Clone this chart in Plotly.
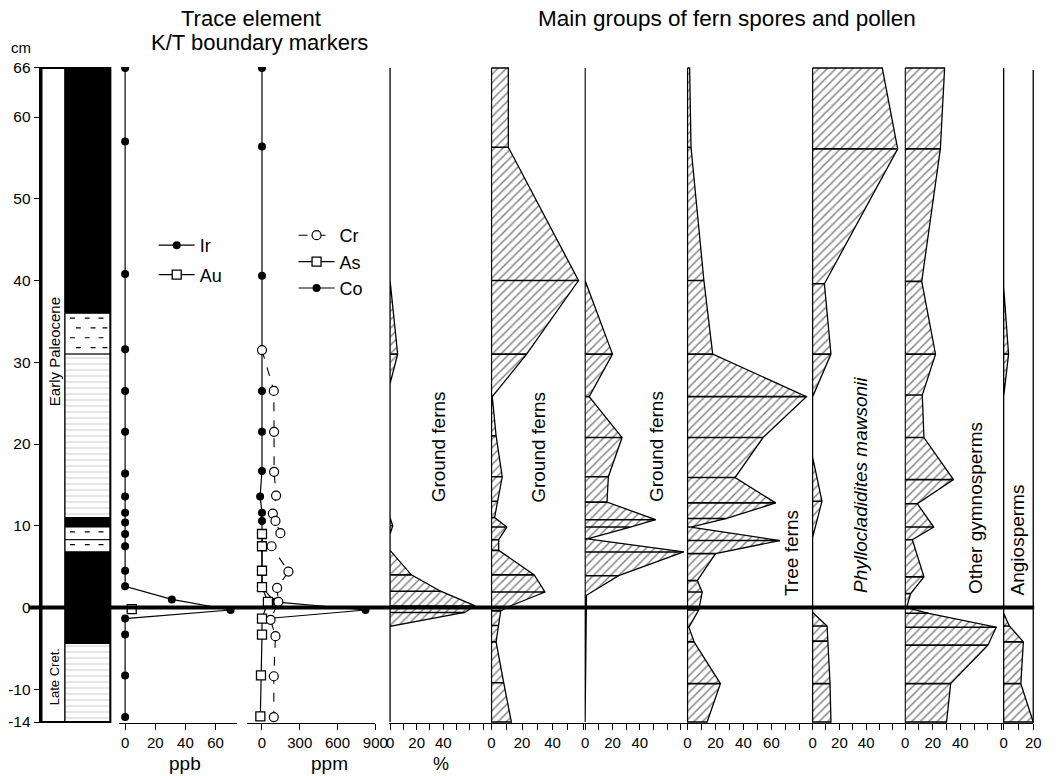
import plotly.graph_objects as go

W, H = 1061, 776
TOP, BOT = 67, 723
FONT = "Liberation Sans, Arial, Helvetica, sans-serif"

# ---------------- data ----------------
depth_range = [-14.12, 66.12]
depth_tickvals = [-14, -10, 0, 10, 20, 30, 40, 50, 60, 66]
depth_ticktext = ["-14", "-10", "0", "10", "20", "30", "40", "50", "60", "66"]
kt_boundary = 0

# lithology column (cm)
lith_top = [66, 36, 31, 11, 9.85, 8.3, 6.8, -4.4]
lith_base = [36, 31, 11, 9.85, 8.3, 6.8, -4.4, -14]
lith_kind = ["coal", "shale", "laminated", "coal", "shale", "shale", "coal", "laminated"]

# trace elements
ir_depth = [66, 57.0, 40.8, 31.6, 26.5, 21.5, 16.4, 13.6, 11.6, 10.4, 9.0, 7.5, 4.5, 2.6, 1.0, -0.3, -1.35, -3.3, -8.3, -13.4]
ir_ppb = [0, 0, 0, 0, 0, 0, 0, 0, 0, 0, 0, 0, 0, 0, 31, 70, 0, 0, 0, 0]
au_depth = [-0.2]
au_ppb = [4.4]

co_depth = [66, 56.4, 40.6, 26.5, 21.5, 16.7, 13.6, 11.6, 10.6, 2.5, 0.7, -0.3, -1.4]
co_ppm = [0, 0, 0, 0, 0, 0, -15, 0, 0, 0, 100, 822, 0]
cr_depth = [31.5, 26.5, 21.5, 16.6, 13.7, 11.5, 10.6, 9.1, 7.5, 4.4, 2.4, 0.7, -1.5, -3.5, -8.4, -13.4]
cr_ppm = [0, 94, 96, 96, 112, 86, 107, 146, 76, 210, 120, 130, 68, 107, 94, 94]
as_depth = [9.0, 7.5, 4.5, 2.5, 0.7, -1.35, -3.3, -8.3, -13.3]
as_ppm = [0, 0, 0, 0, 47, 0, 0, -8, -13]

# pollen & spores (%)
gf1_depth = [66, 40, 31, 27.4, 11, 10, 9, 7, 4, 2, 0.2, -0.6, -2.3, -14]
gf1_pct = [0, 0, 5.7, 0, 0, 2, 0, 0, 16, 38, 64, 56, 0, 0]

gf2_depth = [66, 56.3, 40, 31, 25.8, 21, 16, 13, 11, 9.85, 8.3, 7, 4, 1.9, 0.1, -0.4, -2.2, -4.2, -9.2, -14]
gf2_pct = [11, 11, 57, 23, 0.5, 3, 7, 4, 2, 10, 4.7, 4.7, 28, 35, 11, 6, 4.7, 3, 8, 13]

gf3_depth = [66, 40, 31, 25.8, 20.8, 16, 12.9, 10.75, 9.85, 8.4, 6.8, 3.9, 1.5, -14]
gf3_pct = [0, 0, 20, 3, 27, 17, 16, 51.5, 33, 1.7, 72, 24.5, 1, 0]

tree_depth = [66, 56.3, 40, 31, 25.8, 20.8, 15.9, 12.8, 10.9, 9.85, 8.2, 6.6, 3.3, 1.9, -0.3, -2.4, -4.2, -9.3, -14]
tree_pct = [1.5, 2.5, 11.7, 18, 85, 54, 34, 63, 28, 2.3, 66, 20, 7, 10.5, 8, 1, 4.7, 23.5, 14]

phyl_depth = [66, 56.1, 39.6, 31, 25.8, 18.4, 13, 8.6, -0.6, -2.25, -4.1, -9.3, -14]
phyl_pct = [52, 63.5, 8.8, 13.7, 0, 0, 7, 0, 0, 10.8, 11.5, 13, 13.7]

gym_depth = [66, 56.1, 39.9, 31, 26, 20.8, 15.65, 12.7, 9.85, 8.3, 3.75, 1.7, 0, -0.7, -2.4, -4.6, -9.3, -14]
gym_pct = [28.6, 25.5, 12, 22, 12.4, 13.6, 35, 8.8, 20.7, 5.2, 13.6, 4, 1, 17, 66, 60, 33, 30]

ang_depth = [66, 39.2, 31, 25.8, -0.7, -2.25, -4.2, -9.3, -14]
ang_pct = [0, 0, 3.3, 0, 0, 3.8, 13.3, 11.6, 20]


def fx(px):
    return px / W


def fy(py):
    return (BOT - py) / (BOT - TOP)


fig = go.Figure()
layout = dict(
    width=W, height=H, autosize=False,
    margin=dict(l=0, r=0, t=TOP, b=H - BOT, pad=0),
    paper_bgcolor="white", plot_bgcolor="white",
    font=dict(family=FONT, color="black", size=15),
    showlegend=True,
)

# ---------------- lithology ----------------
layout["xaxis"] = dict(domain=[fx(39), fx(109)], range=[0, 70], visible=False, fixedrange=True)
layout["yaxis"] = dict(
    domain=[0, 1], range=depth_range, anchor="x",
    tickvals=depth_tickvals, ticktext=depth_ticktext,
    ticks="outside", ticklen=6, tickwidth=1.2, tickcolor="black",
    showline=True, linewidth=1.5, linecolor="black",
    showgrid=False, zeroline=False, tickfont=dict(size=15.5), fixedrange=True,
)

fig.add_trace(go.Scatter(
    x=[0, 24, 24, 0, 0], y=[66, 66, -14, -14, 66], xaxis="x", yaxis="y",
    mode="lines", fill="toself", fillcolor="white",
    line=dict(color="black", width=1.5), showlegend=False, hoverinfo="skip"))

dash_x, dash_y = [], []
for t, b, k in zip(lith_top, lith_base, lith_kind):
    if k == "coal":
        fig.add_trace(go.Scatter(
            x=[24, 70, 70, 24, 24], y=[t, t, b, b, t], xaxis="x", yaxis="y",
            mode="lines", fill="toself", fillcolor="black",
            line=dict(color="black", width=1), showlegend=False, hoverinfo="skip"))
    elif k == "laminated":
        fig.add_trace(go.Scatter(
            x=[24, 70, 70, 24, 24], y=[t, t, b, b, t], xaxis="x", yaxis="y",
            mode="lines", fill="toself", fillcolor="white",
            fillpattern=dict(shape="-", fgcolor="#8a8a8a", bgcolor="white", size=6, solidity=0.14),
            line=dict(color="black", width=1), showlegend=False, hoverinfo="skip"))
    else:
        fig.add_trace(go.Scatter(
            x=[24, 70, 70, 24, 24], y=[t, t, b, b, t], xaxis="x", yaxis="y",
            mode="lines", fill="toself", fillcolor="white",
            line=dict(color="black", width=1), showlegend=False, hoverinfo="skip"))
        n = max(1, int((t - b) / 1.2))
        for r in range(n):
            yy = t - 0.6 - r * 1.2
            starts = [29, 44, 58] if r % 2 == 0 else [35, 50, 62]
            for s in starts:
                dash_x += [s, s + 5, None]
                dash_y += [yy, yy, None]
fig.add_trace(go.Scatter(x=dash_x, y=dash_y, xaxis="x", yaxis="y", mode="lines",
                         line=dict(color="black", width=1.2), showlegend=False, hoverinfo="skip"))

# ---------------- trace elements ----------------
tick_common = dict(ticks="outside", ticklen=6, tickwidth=1.2, tickcolor="black",
                   showline=True, linewidth=1.3, linecolor="black", showgrid=False,
                   zeroline=False, anchor="y", tickfont=dict(size=15), fixedrange=True)
layout["xaxis2"] = dict(domain=[fx(118), fx(238)], range=[-3.9, 74.5], tickvals=[0, 20, 40, 60], **tick_common)
layout["xaxis3"] = dict(domain=[fx(248), fx(378)], range=[-117, 900], tickvals=[0, 300, 600, 900], **tick_common)

fig.add_trace(go.Scatter(x=ir_ppb, y=ir_depth, xaxis="x2", yaxis="y", mode="lines+markers", name="Ir",
                         legend="legend", legendgroup="ir",
                         line=dict(color="black", width=1.2),
                         marker=dict(symbol="circle", size=8, color="black"), hoverinfo="skip"))
fig.add_trace(go.Scatter(x=au_ppb, y=au_depth, xaxis="x2", yaxis="y", mode="lines+markers", name="Au",
                         legend="legend", legendgroup="au",
                         line=dict(color="black", width=1.2),
                         marker=dict(symbol="square", size=9, color="white", line=dict(color="black", width=1.3)),
                         hoverinfo="skip"))

fig.add_trace(go.Scatter(x=co_ppm, y=co_depth, xaxis="x3", yaxis="y", mode="lines+markers", name="Co",
                         legend="legend2", legendrank=3,
                         line=dict(color="black", width=1.2),
                         marker=dict(symbol="circle", size=8, color="black"), hoverinfo="skip"))
fig.add_trace(go.Scatter(x=cr_ppm, y=cr_depth, xaxis="x3", yaxis="y", mode="lines+markers", name="Cr",
                         legend="legend2", legendrank=1,
                         line=dict(color="black", width=1.1, dash="dash"),
                         marker=dict(symbol="circle", size=9, color="white", line=dict(color="black", width=1.2)),
                         hoverinfo="skip"))
fig.add_trace(go.Scatter(x=as_ppm, y=as_depth, xaxis="x3", yaxis="y", mode="lines+markers", name="As",
                         legend="legend2", legendrank=2,
                         line=dict(color="black", width=1.2),
                         marker=dict(symbol="square", size=9, color="white", line=dict(color="black", width=1.3)),
                         hoverinfo="skip"))

# ---------------- pollen panels ----------------
panels = [
    ("x4", 393, 496, 1.35, gf1_depth, gf1_pct, [0, 20, 40]),
    ("x5", 496, 591, 1.55, gf2_depth, gf2_pct, [0, 20, 40]),
    ("x6", 591, 695, 1.39, gf3_depth, gf3_pct, [0, 20, 40]),
    ("x7", 695, 822, 1.42, tree_depth, tree_pct, [0, 20, 40, 60]),
    ("x8", 822, 916, 1.36, phyl_depth, phyl_pct, [0, 20, 40]),
    ("x9", 916, 1016, 1.40, gym_depth, gym_pct, [0, 20, 40]),
    ("x10", 1016, 1046, 1.50, ang_depth, ang_pct, [0, 20]),
]
for i, (ax, p0, p1, scale, dep, val, labelled) in enumerate(panels):
    rmax = (p1 - p0) / scale
    lead = 1.5 if i == 0 else 0.75
    rmin = -lead / scale
    tv = list(range(0, int(rmax) + 1, 10))
    tt = [str(v) if v in labelled else "" for v in tv]
    last = i == len(panels) - 1
    layout["xaxis" + ax[1:]] = dict(domain=[fx(p0 - lead), fx(p1 - (0 if last else 0.75))],
                                   range=[rmin, rmax - (0 if last else 0.75 / scale)],
                                   tickvals=tv, ticktext=tt, **tick_common)
    xs = [0] + list(val) + [0, 0]
    ys = [dep[0]] + list(dep) + [dep[-1], dep[0]]
    fig.add_trace(go.Scatter(
        x=xs, y=ys, xaxis=ax, yaxis="y", mode="lines", fill="toself", fillcolor="white",
        fillpattern=dict(shape="/", fgcolor="black", bgcolor="white", size=6, solidity=0.24),
        line=dict(color="black", width=1.3), showlegend=False, hoverinfo="skip"))
    hx, hy = [], []
    for d, v in zip(dep[1:-1], val[1:-1]):
        if v > 0:
            hx += [0, v, None]
            hy += [d, d, None]
    fig.add_trace(go.Scatter(x=hx, y=hy, xaxis=ax, yaxis="y", mode="lines",
                             line=dict(color="black", width=1.6), showlegend=False, hoverinfo="skip"))

# ---------------- shapes ----------------
shapes = [
    dict(type="rect", xref="x domain", yref="y", x0=0, x1=1, y0=-14, y1=66,
         line=dict(color="black", width=2), fillcolor="rgba(0,0,0,0)", layer="above"),
    dict(type="line", xref="paper", yref="y", x0=fx(26), x1=fx(1047), y0=kt_boundary, y1=kt_boundary,
         line=dict(color="black", width=4), layer="above"),
    dict(type="line", xref="x10 domain", yref="paper", x0=1, x1=1, y0=0, y1=fy(70),
         line=dict(color="black", width=1.3), layer="above"),
]
layout["shapes"] = shapes

# ---------------- annotations ----------------
ann = []


def text(x, y, s, size, angle=0, italic=False):
    ann.append(dict(xref="paper", yref="paper", x=fx(x), y=fy(y), text=s, showarrow=False,
                    textangle=angle, xanchor="center", yanchor="middle",
                    font=dict(size=size, family=FONT, color="black",
                              style="italic" if italic else "normal")))


text(252, 19, "Trace element", 22)
text(260, 42, "K/T boundary markers", 22)
text(735, 19, "Main groups of fern spores and pollen", 22.5)
text(18, 48, "cm", 15)
text(185, 763, "ppb", 19)
text(331, 763, "ppm", 19)
text(445, 764, "%", 18)
text(442, 447, "Ground ferns", 19, -90)
text(543, 447, "Ground ferns", 19, -90)
text(663, 447, "Ground ferns", 19, -90)
text(800, 553, "Tree ferns", 19, -90)
text(870, 485, "Phyllocladidites mawsonii", 19, -90, italic=True)
text(987, 508, "Other gymnosperms", 19, -90)
text(1030, 540, "Angiosperms", 19, -90)
text(52, 352, "Early Paleocene", 15, -90)
text(52, 677, "Late Cret.", 13, -90)
layout["annotations"] = ann

layout["legend"] = dict(x=fx(153), y=fy(227), xanchor="left", yanchor="top",
                        bgcolor="rgba(0,0,0,0)", font=dict(size=18), itemwidth=36,
                        traceorder="grouped", tracegroupgap=3)
layout["legend2"] = dict(x=fx(295), y=fy(217), xanchor="left", yanchor="top",
                         bgcolor="rgba(0,0,0,0)", font=dict(size=18), itemwidth=36)

fig.update_layout(**layout)
fig.write_html(
    "out.html", config={"displayModeBar": False, "responsive": False},
    post_script=("document.body.style.margin='0';document.body.style.overflow='hidden';"
                 "var gd=document.getElementById('{plot_id}');"
                 "Plotly.relayout(gd,{width:1061,height:776});"))
